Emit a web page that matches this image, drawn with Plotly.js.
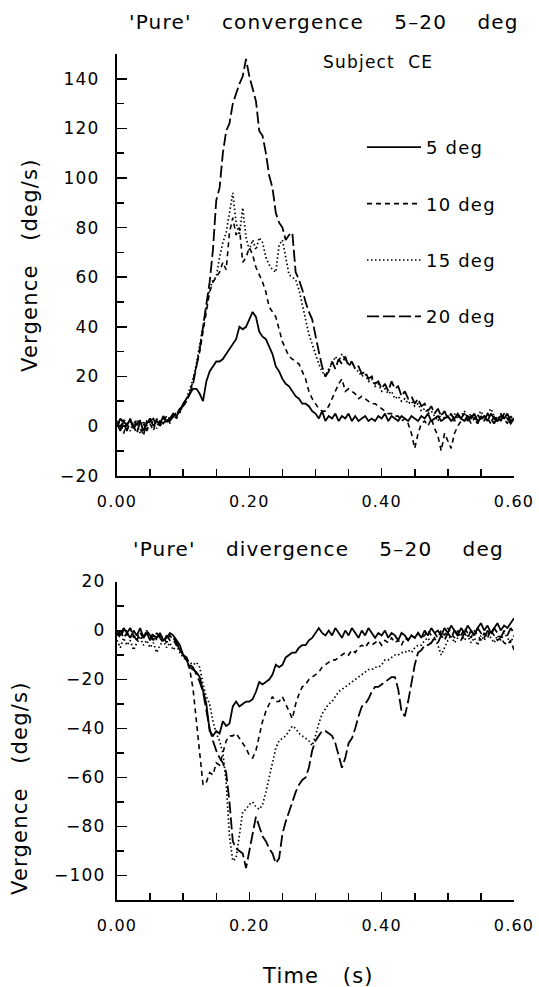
<!DOCTYPE html>
<html><head><meta charset="utf-8">
<script src="https://cdn.plot.ly/plotly-3.0.1.min.js"></script>
<style>html,body{margin:0;padding:0;background:#fff}svg text{letter-spacing:1.2px}</style>
</head><body><div id="chart" style="width:539px;height:987px"></div>
<script>
// sampling: every 0.005 s from 0.000 to 0.600
const sampleStart = 0.0;
const sampleStep = 0.005;
const seriesNames = ['5 deg', '10 deg', '15 deg', '20 deg'];

// 'Pure' convergence (deg/s)
const conv5 = [
 1,-2,2,0,3,-1,1,2,-2,1,
 3,0,2,1,4,2,3,5,4,6,
 9,11,13,15,15,13,10,18,22,24,
 26,26,27,29,31,33,35,40,39,40,
 43,46,44,38,36,35,32,29,24,22,
 19,17,16,14,12,11,9,9,8,6,
 5,3,6,2,4,3,5,2,4,3,
 5,2,4,2,3,4,2,3,2,4,
 3,5,2,4,3,2,4,3,2,4,
 3,2,4,3,5,2,3,4,2,3,
 4,2,3,5,3,2,4,3,5,2,
 3,4,2,5,3,2,4,3,5,2,
 3];
const conv10 = [
 0,2,-3,1,2,-1,3,0,-4,2,
 1,-2,3,0,2,4,1,5,3,6,
 8,10,13,18,24,30,38,46,54,58,
 60,62,66,63,78,84,77,80,66,68,
 72,69,64,61,58,54,48,46,44,39,
 34,31,28,27,26,25,22,19,14,11,
 9,7,6,6,8,11,14,17,19,14,
 15,14,13,11,12,11,10,9,9,8,
 7,6,5,5,4,4,2,3,1,-3,
 -9,-3,1,2,0,3,-1,-4,-10,-3,
 -6,-9,-3,0,2,2,4,1,3,5,
 2,4,3,1,4,2,5,3,1,4,
 2];
const conv15 = [
 2,-1,3,0,-2,2,1,-3,2,0,
 3,1,-1,2,3,1,4,3,6,5,
 9,11,15,19,25,32,40,48,55,59,
 60,68,74,78,86,94,82,77,88,76,
 71,75,71,76,74,68,65,63,62,73,
 75,68,61,60,59,55,49,44,37,33,
 29,25,22,20,23,25,28,26,29,27,
 25,26,23,22,20,21,18,19,16,17,
 14,15,13,14,11,12,10,11,9,10,
 8,9,6,7,5,6,4,2,5,3,
 4,2,5,3,4,6,3,5,2,4,
 6,3,5,7,4,2,5,3,4,2,
 3];
const conv20 = [
 0,3,1,-2,2,0,-3,2,1,-2,
 2,3,0,2,1,3,2,4,5,7,
 8,10,13,17,24,31,40,50,58,71,
 91,96,110,119,122,130,134,138,141,148,
 141,136,131,119,117,110,101,96,86,82,
 80,75,77,78,62,59,55,50,46,43,
 36,30,24,20,22,26,23,27,25,28,
 24,26,23,24,21,22,19,20,17,18,
 15,17,14,18,15,16,12,14,11,12,
 9,11,8,9,6,8,5,7,4,6,
 3,5,2,4,3,5,2,4,3,1,
 4,2,5,3,1,4,2,5,3,1,
 3];

// 'Pure' divergence (deg/s)
const div5 = [
 0,-2,1,-1,-3,0,-2,1,-3,-1,
 -4,-2,-3,-1,-4,-3,-1,-2,-4,-6,
 -10,-12,-15,-16,-17,-19,-24,-30,-41,-43,
 -41,-42,-37,-39,-38,-31,-29,-31,-30,-29,
 -29,-28,-25,-21,-22,-21,-20,-18,-14,-15,
 -14,-11,-10,-9,-9,-7,-6,-6,-4,-3,
 -1,1,-1,-2,0,-2,1,-1,-3,0,
 -2,1,-1,-3,0,-2,1,-1,-3,-1,
 -2,0,-3,-1,-2,-4,-1,-2,-4,-2,
 -3,-1,-3,0,-2,1,-1,0,-2,1,
 -1,2,0,-2,1,-1,2,0,-2,1,
 3,0,2,-1,1,3,0,2,1,3,
 5];
const div10 = [
 -1,-3,0,-2,1,-3,-1,-4,-2,0,
 -3,-1,-4,-2,-3,-5,-2,-4,-6,-8,
 -10,-12,-16,-24,-37,-50,-63,-62,-58,-59,
 -54,-55,-50,-45,-43,-43,-42,-44,-46,-48,
 -51,-52,-49,-43,-37,-33,-30,-27,-29,-29,
 -27,-30,-33,-36,-30,-26,-23,-22,-20,-19,
 -18,-17,-15,-14,-13,-12,-12,-11,-10,-9,
 -10,-8,-9,-7,-6,-7,-5,-6,-5,-4,
 -6,-4,-5,-3,-5,-4,-6,-3,-4,-2,
 -3,-1,-3,-2,0,-2,-1,-3,0,-2,
 1,-1,-3,0,-2,1,-1,-3,0,-2,
 -4,-1,-3,0,-2,-4,-3,-5,-6,-4,
 -8];
const div15 = [
 -4,-7,-3,-6,-4,-8,-5,-3,-6,-4,
 -7,-5,-9,-6,-4,-7,-5,-8,-6,-9,
 -11,-12,-13,-14,-13,-15,-22,-27,-30,-37,
 -42,-45,-50,-62,-84,-94,-93,-83,-74,-73,
 -71,-70,-72,-73,-71,-66,-60,-55,-48,-45,
 -44,-43,-41,-39,-40,-42,-43,-44,-45,-47,
 -43,-38,-34,-32,-30,-29,-27,-25,-24,-23,
 -22,-21,-20,-19,-18,-17,-16,-16,-15,-15,
 -14,-12,-12,-11,-10,-10,-9,-9,-8,-9,
 -7,-6,-6,-4,-3,-5,-3,-6,-10,-7,
 -4,-2,-5,-3,-1,-4,-2,-5,-3,-6,
 -2,-4,-1,-3,-5,-2,-4,-1,-3,-5,
 -2];
const div20 = [
 -2,0,-3,-1,1,-2,-4,-1,-3,0,
 -2,-4,-1,-3,-5,-2,-4,-3,-5,-8,
 -10,-11,-14,-15,-18,-21,-25,-32,-40,-45,
 -49,-52,-54,-58,-70,-86,-89,-90,-91,-97,
 -90,-82,-76,-80,-84,-86,-89,-91,-95,-93,
 -83,-78,-74,-70,-66,-63,-61,-60,-56,-49,
 -45,-43,-41,-41,-42,-43,-46,-51,-56,-52,
 -46,-44,-40,-35,-31,-30,-28,-25,-23,-23,
 -22,-21,-20,-19,-19,-24,-33,-35,-29,-21,
 -14,-9,-8,-6,-6,-5,-3,-5,-2,-4,
 -1,-3,0,-2,-4,-1,-3,0,-2,1,
 -1,-3,0,-2,1,-1,-3,0,-2,1,
 -1];

const W = 539, H = 987;
const px = x => x / W;
const py = y => 1 - y / H;
const FONT = 'DejaVu Sans, sans-serif';
const BLACK = '#000';

const styles = [
  {dash: 'solid', width: 1.8},
  {dash: '5px,4px', width: 1.6},
  {dash: '1.5px,2.5px', width: 1.7},
  {dash: '12px,4px', width: 1.8}
];

const convData = [conv5, conv10, conv15, conv20];
const divData = [div5, div10, div15, div20];

const traces = [];
convData.forEach((ys, i) => {
  traces.push({
    type: 'scatter', mode: 'lines', name: seriesNames[i],
    x0: sampleStart, dx: sampleStep, y: ys,
    xaxis: 'x', yaxis: 'y',
    line: {color: BLACK, width: styles[i].width, dash: styles[i].dash},
    legendgroup: 'g' + i, showlegend: true, hoverinfo: 'skip'
  });
});
divData.forEach((ys, i) => {
  traces.push({
    type: 'scatter', mode: 'lines', name: seriesNames[i],
    x0: sampleStart, dx: sampleStep, y: ys,
    xaxis: 'x2', yaxis: 'y2',
    line: {color: BLACK, width: styles[i].width, dash: styles[i].dash},
    legendgroup: 'g' + i, showlegend: false, hoverinfo: 'skip'
  });
});

function xAxis(anchor) {
  return {
    domain: [px(117), px(514)], range: [0, 0.6], anchor: anchor,
    showline: true, linecolor: BLACK, linewidth: 2,
    showgrid: false, zeroline: false,
    tickmode: 'linear', tick0: 0, dtick: 0.2, tickformat: '.2f',
    ticks: 'inside', ticklen: 8, tickwidth: 1.5, tickcolor: BLACK,
    tickfont: {family: FONT, size: 16, color: BLACK},
    ticklabelstandoff: 10,
    minor: {tickmode: 'linear', tick0: 0, dtick: 0.05, ticks: 'inside', ticklen: 7, tickwidth: 1.5, tickcolor: BLACK, showgrid: false},
    fixedrange: true
  };
}
function yAxis(anchor, domain, range, standoff) {
  return {
    domain: domain, range: range, anchor: anchor,
    showline: true, linecolor: BLACK, linewidth: 2,
    showgrid: false, zeroline: false,
    tickmode: 'linear', tick0: 0, dtick: 20,
    ticks: 'inside', ticklen: 10, tickwidth: 1.5, tickcolor: BLACK,
    tickfont: {family: FONT, size: 17, color: BLACK},
    ticklabelstandoff: standoff,
    minor: {tickmode: 'linear', tick0: 0, dtick: 10, ticks: 'inside', ticklen: 7, tickwidth: 1.5, tickcolor: BLACK, showgrid: false},
    fixedrange: true
  };
}

const ann = (text, x, y, size, extra) => Object.assign({
  text: text, xref: 'paper', yref: 'paper', x: px(x), y: py(y),
  xanchor: 'center', yanchor: 'middle', showarrow: false,
  font: {family: FONT, size: size, color: BLACK}
}, extra || {});

const GAP = '\u00a0\u00a0\u00a0\u00a0';
const layout = {
  width: W, height: H,
  margin: {l: 0, r: 0, t: 0, b: 0},
  paper_bgcolor: '#fff', plot_bgcolor: '#fff',
  showlegend: true,
  font: {family: FONT, color: BLACK},
  xaxis: xAxis('y'),
  yaxis: yAxis('x', [py(475.6), py(54)], [-20, 150], 12),
  xaxis2: xAxis('y2'),
  yaxis2: yAxis('x2', [py(900), py(581.5)], [-110, 20], 6),
  legend: {
    x: px(362), xanchor: 'left', y: py(129), yanchor: 'top',
    bgcolor: 'rgba(0,0,0,0)', borderwidth: 0,
    font: {family: FONT, size: 18, color: BLACK},
    itemwidth: 54, tracegroupgap: 30, traceorder: 'grouped',
    itemclick: false, itemdoubleclick: false
  },
  annotations: [
    ann("'Pure'" + GAP + "convergence" + GAP + "5\u201320" + GAP + "deg", 324, 22, 20),
    ann("'Pure'" + GAP + "divergence" + GAP + "5\u201320" + GAP + "deg", 318, 549, 20),
    ann("Subject\u00a0\u00a0CE", 378, 62, 17),
    ann("Vergence\u00a0\u00a0\u00a0(deg/s)", 30, 265, 21, {textangle: -90}),
    ann("Vergence\u00a0\u00a0\u00a0(deg/s)", 20, 788, 21, {textangle: -90}),
    ann("Time\u00a0\u00a0\u00a0(s)", 318, 976, 21)
  ]
};

Plotly.newPlot('chart', traces, layout, {displayModeBar: false, staticPlot: true});
</script>
</body></html>
